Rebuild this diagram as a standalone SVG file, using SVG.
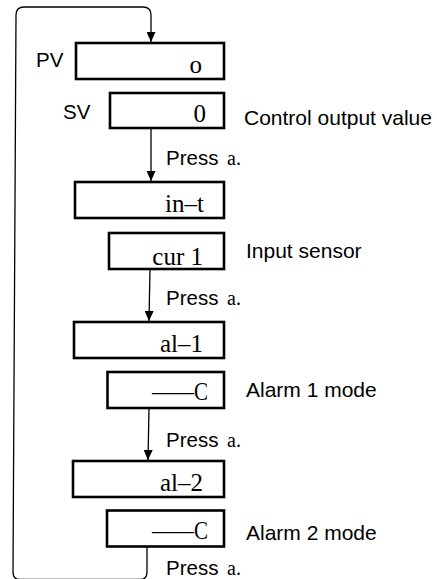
<svg xmlns="http://www.w3.org/2000/svg" width="437" height="579" viewBox="0 0 437 579">
<style>
.box{fill:#fff;stroke:#000;stroke-width:2.6}
.val{font-family:"Liberation Serif","Times New Roman",serif;font-size:25px;fill:#000;text-anchor:end}
.lab{font-family:"Liberation Sans",Arial,sans-serif;font-size:20.5px;fill:#000}
.desc{font-family:"Liberation Sans",Arial,sans-serif;font-size:21px;fill:#000}
.ser{font-family:"Liberation Serif","Times New Roman",serif;font-size:20px}
.conn{fill:none;stroke:#000;stroke-width:1.3}
</style>
<defs>
<marker id="ah" viewBox="0 0 10 9" refX="10" refY="4.5" markerWidth="10" markerHeight="9" markerUnits="userSpaceOnUse" orient="auto">
<path d="M0,0 L10,4.5 L0,9 Z" fill="#000"/>
</marker>
</defs>
<g id="connectors">
<path class="conn" d="M147,547 L147,572 Q147,579.5 140,579.5 L20,579.5 Q13,579.5 13,572 L16,15 Q16,7 24,7 L143,7 Q151,7 151,15 L151,42" marker-end="url(#ah)"/>
<path class="conn" d="M151,128 L151,181" marker-end="url(#ah)"/>
<path class="conn" d="M150,269 L149,321" marker-end="url(#ah)"/>
<path class="conn" d="M149,408 L148,460" marker-end="url(#ah)"/>
</g>
<g id="pv">
<text class="lab" x="36" y="67">PV</text>
<rect class="box" x="76" y="43" width="148" height="36"/>
<text class="val" x="202" y="73">o</text>
</g>
<g id="sv">
<text class="lab" x="63" y="119">SV</text>
<rect class="box" x="110" y="93" width="114" height="35"/>
<text class="val" x="206" y="122">0</text>
<text class="desc" x="244" y="125">Control output value</text>
</g>
<g id="press1"><text class="lab" x="166" y="165">Press<tspan class="ser" x="227">a.</tspan></text></g>
<g id="in-t">
<rect class="box" x="75" y="182" width="149" height="36"/>
<text class="val" x="204" y="212">in–t</text>
</g>
<g id="cur1">
<rect class="box" x="109" y="233" width="115" height="36"/>
<text class="val" x="203" y="265">cur 1</text>
<text class="desc" x="246" y="258">Input sensor</text>
</g>
<g id="press2"><text class="lab" x="166" y="305">Press<tspan class="ser" x="227">a.</tspan></text></g>
<g id="al-1">
<rect class="box" x="74" y="322" width="150" height="36"/>
<text class="val" x="203" y="352">al–1</text>
</g>
<g id="al-1-mode">
<rect class="box" x="107.5" y="372" width="116.5" height="36"/>
<text class="val" x="208" y="400" textLength="56" lengthAdjust="spacingAndGlyphs">——C</text>
<text class="desc" x="246" y="397">Alarm 1 mode</text>
</g>
<g id="press3"><text class="lab" x="166" y="447">Press<tspan class="ser" x="227">a.</tspan></text></g>
<g id="al-2">
<rect class="box" x="73" y="461" width="151" height="36"/>
<text class="val" x="203" y="491">al–2</text>
</g>
<g id="al-2-mode">
<rect class="box" x="107" y="510.5" width="117" height="36"/>
<text class="val" x="208" y="539" textLength="56" lengthAdjust="spacingAndGlyphs">——C</text>
<text class="desc" x="246" y="540">Alarm 2 mode</text>
</g>
<g id="press4"><text class="lab" x="166" y="575">Press<tspan class="ser" x="227">a.</tspan></text></g>
</svg>
